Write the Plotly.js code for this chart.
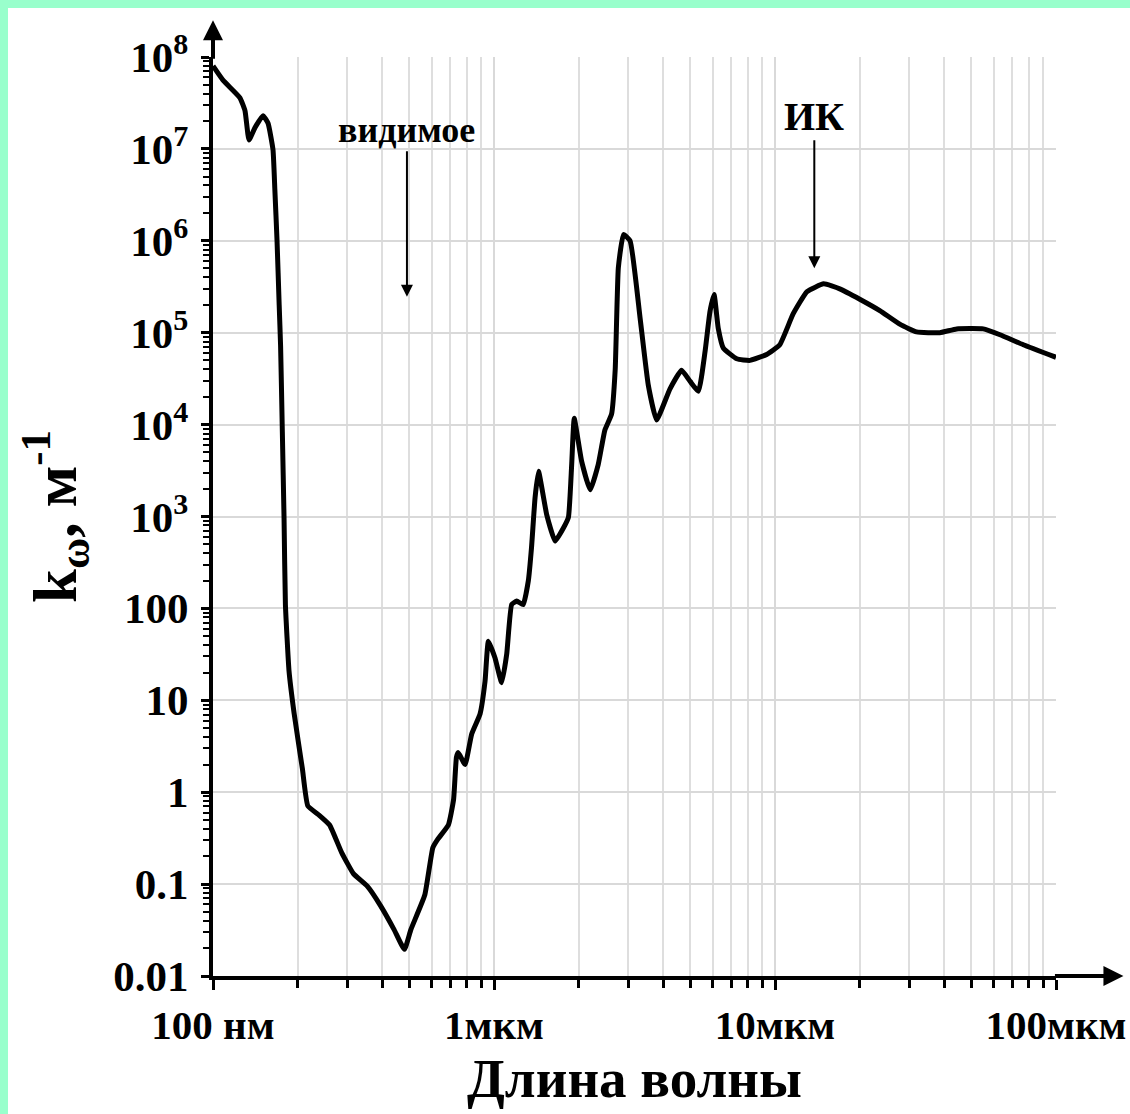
<!DOCTYPE html>
<html>
<head>
<meta charset="utf-8">
<script src="https://cdn.plot.ly/plotly-3.0.1.min.js"></script>
<style>
  html, body { margin: 0; padding: 0; background: #99FFCC; width: 1130px; height: 1114px; overflow: hidden; }
  #chart { position: absolute; left: 8px; top: 8px; width: 1122px; height: 1106px; background: #ffffff; }
</style>
</head>
<body>
<div id="chart"></div>
<script>
// Wavelength in micrometres
const wavelength = [
  0.1, 0.1085, 0.1247, 0.130, 0.1343, 0.141, 0.1506, 0.157, 0.1635, 0.166, 0.169, 0.172,
  0.174, 0.1765, 0.179, 0.181, 0.1864, 0.1944, 0.208, 0.2175, 0.239, 0.260, 0.287, 0.316,
  0.354, 0.395, 0.441, 0.480, 0.506, 0.567, 0.606, 0.632, 0.688, 0.718, 0.735, 0.746,
  0.789, 0.833, 0.892, 0.929, 0.955, 1.008, 1.065, 1.11, 1.156, 1.205, 1.27, 1.325,
  1.36, 1.40, 1.44, 1.54, 1.65, 1.77, 1.84, 1.89, 1.93, 2.05, 2.20, 2.35,
  2.48, 2.62, 2.70, 2.77, 2.89, 3.05, 3.31, 3.54, 3.79, 4.23, 4.65, 4.99,
  5.34, 5.64, 5.87, 6.07, 6.28, 6.55, 7.31, 8.15, 9.34, 10.4, 11.6, 13.0,
  14.9, 17.0, 20.1, 23.6, 27.9, 31.9, 38.6, 44.3, 55.1, 63.2, 76.5, 100
];
// Absorption coefficient k_omega, 1/m
const absorption = [
  8.0e7, 5.6e7, 3.6e7, 2.6e7, 1.25e7, 1.7e7, 2.3e7, 1.9e7, 9.8e6, 3.6e6, 1.0e6, 2.0e5,
  7.2e4, 8300, 950, 110, 21, 7.2, 1.8, 0.71, 0.56, 0.44, 0.22, 0.13,
  0.095, 0.058, 0.032, 0.0195, 0.032, 0.076, 0.25, 0.31, 0.44, 0.83, 2.4, 2.7,
  2.0, 4.3, 7.1, 16, 44, 29, 15.5, 32, 110, 120, 110, 200,
  460, 1600, 3100, 1050, 540, 760, 980, 3700, 11700, 4000, 1950, 3700,
  8700, 13000, 40000, 5.1e5, 1.17e6, 1.0e6, 1.45e5, 2.7e4, 1.12e4, 2.45e4, 3.9e4, 2.95e4,
  2.3e4, 6.3e4, 1.7e5, 2.6e5, 1.12e5, 6.8e4, 5.2e4, 5.0e4, 5.8e4, 7.4e4, 1.6e5, 2.8e5,
  3.4e5, 3.0e5, 2.3e5, 1.74e5, 1.23e5, 1.02e5, 1.0e5, 1.1e5, 1.1e5, 9.5e4, 7.4e4, 5.4e4
];

const xTickVals = [0.1, 1, 10, 100];
const xTickText = ['100 нм', '1мкм', '10мкм', '100мкм'];
const yTickVals = [1e8, 1e7, 1e6, 1e5, 1e4, 1e3, 100, 10, 1, 0.1, 0.01];
const yTickText = ['10<sup>8</sup>', '10<sup>7</sup>', '10<sup>6</sup>', '10<sup>5</sup>', '10<sup>4</sup>', '10<sup>3</sup>', '100', '10', '1', '0.1', '0.01'];

const serif = 'Liberation Serif, Times New Roman, serif';

const trace = {
  x: wavelength,
  y: absorption,
  type: 'scatter',
  mode: 'lines',
  line: { color: '#000000', width: 5, shape: 'spline', smoothing: 0.4 },
  hoverinfo: 'x+y'
};

const layout = {
  width: 1122,
  height: 1106,
  paper_bgcolor: '#ffffff',
  plot_bgcolor: '#ffffff',
  showlegend: false,
  margin: { l: 205, r: 74, t: 49, b: 138 },
  font: { family: serif, color: '#000000' },
  xaxis: {
    type: 'log',
    range: [-1, 2],
    tickmode: 'array',
    tickvals: xTickVals,
    ticktext: xTickText,
    tickfont: { family: serif, size: 41, weight: 'bold' },
    ticks: 'outside',
    ticklen: 10,
    tickwidth: 3,
    tickcolor: '#000',
    showline: true,
    linecolor: '#000',
    linewidth: 4,
    showgrid: true,
    gridcolor: '#d9d9d9',
    gridwidth: 2,
    zeroline: false,
    ticklabelstandoff: 0,
    minor: { dtick: 'D1', ticks: 'outside', ticklen: 8, tickwidth: 3, tickcolor: '#000', showgrid: true, gridcolor: '#dedede', gridwidth: 2 },
    title: { text: 'Длина волны', font: { family: serif, size: 55, weight: 'bold' }, standoff: 10 }
  },
  yaxis: {
    type: 'log',
    range: [-2, 8],
    tickmode: 'array',
    tickvals: yTickVals,
    ticktext: yTickText,
    tickfont: { family: serif, size: 43, weight: 'bold' },
    ticks: 'outside',
    ticklen: 8,
    tickwidth: 3,
    tickcolor: '#000',
    showline: true,
    linecolor: '#000',
    linewidth: 4,
    showgrid: true,
    gridcolor: '#d9d9d9',
    gridwidth: 2,
    zeroline: false,
    ticklabelstandoff: 4,
    minor: { dtick: 'D1', ticks: 'outside', ticklen: 6, tickwidth: 2, tickcolor: '#000', showgrid: false },
    title: { text: 'k<sub>ω</sub>, м<sup>-1</sup>\u00A0\u00A0\u00A0', font: { family: serif, size: 61, weight: 'bold' }, standoff: 18 }
  },
  annotations: [
    { x: Math.log10(0.49), y: 5.39, xref: 'x', yref: 'y', text: 'видимое', showarrow: true,
      ax: 0, ay: -167, arrowhead: 2, arrowsize: 1.2, arrowwidth: 2, arrowcolor: '#000', standoff: 0,
      font: { family: serif, size: 36, weight: 'bold', color: '#000' } },
    { x: Math.log10(13.8), y: 5.70, xref: 'x', yref: 'y', text: 'ИК', showarrow: true,
      ax: 0, ay: -152, arrowhead: 2, arrowsize: 1.2, arrowwidth: 2, arrowcolor: '#000', standoff: 0,
      font: { family: serif, size: 40, weight: 'bold', color: '#000' } },
    { x: 0, y: 1.04, xref: 'paper', yref: 'paper', text: '', showarrow: true,
      ax: 0, ay: 40, arrowhead: 2, arrowsize: 1, arrowwidth: 4, arrowcolor: '#000', standoff: 0 },
    { x: 1.08, y: 0, xref: 'paper', yref: 'paper', text: '', showarrow: true,
      ax: -70, ay: 0, arrowhead: 2, arrowsize: 1, arrowwidth: 4, arrowcolor: '#000', standoff: 0 }
  ]
};

Plotly.newPlot('chart', [trace], layout, { staticPlot: true, displayModeBar: false });
</script>
</body>
</html>
